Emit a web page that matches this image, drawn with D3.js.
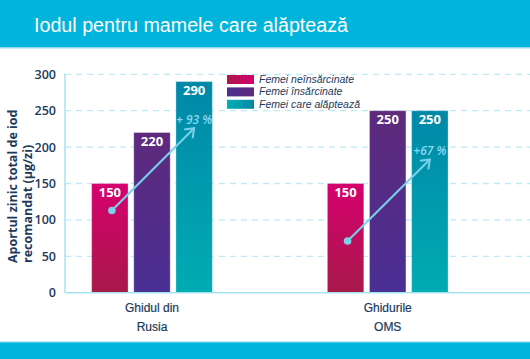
<!DOCTYPE html>
<html><head><meta charset="utf-8">
<script src="https://cdn.jsdelivr.net/npm/d3@7"></script>
<style>html,body{margin:0;padding:0;background:#fff;}svg{display:block;}</style>
</head><body>
<script>
const title = "Iodul pentru mamele care alăptează";
const groups = ["Ghidul din|Rusia", "Ghidurile|OMS"];
const series = ["Femei neînsărcinate", "Femei însărcinate", "Femei care alăptează"];
const values = [[150, 220, 290], [150, 250, 250]];
const yTicks = [0, 50, 100, 150, 200, 250, 300];
const arrowFrom = [113, 71];
const arrowTo = [226, 183];
const arrowLabels = ["+ 93 %", "+67 %"];
const yTitle = ["Aportul zinic total de iod", "recomandat (µg/zi)"];

const W = 530, H = 359;
const navy = "#1b3a5c";
const gradV = [["#d6006f", "#a8194a"], ["#5e2a7c", "#4a2f94"], ["#0088a7", "#00abb3"]];
const gradH = [["#aa1849", "#d6006f"], ["#4a2f94", "#5e2a7c"], ["#00b0b4", "#0087a7"]];

const svg = d3.select("body").append("svg").attr("width", W).attr("height", H);
const defs = svg.append("defs");
gradV.forEach((g, i) => {
  const lg = defs.append("linearGradient").attr("id", "gv" + i).attr("x1", 0).attr("y1", 0).attr("x2", 0).attr("y2", 1);
  lg.append("stop").attr("offset", "0%").attr("stop-color", g[0]);
  lg.append("stop").attr("offset", "100%").attr("stop-color", g[1]);
});
gradH.forEach((g, i) => {
  const lg = defs.append("linearGradient").attr("id", "gh" + i).attr("x1", 0).attr("y1", 0).attr("x2", 1).attr("y2", 0);
  lg.append("stop").attr("offset", "0%").attr("stop-color", g[0]);
  lg.append("stop").attr("offset", "100%").attr("stop-color", g[1]);
});
defs.append("marker").attr("id", "arr").attr("viewBox", "-10 -10 20 20")
  .attr("markerWidth", 20).attr("markerHeight", 20).attr("refX", 0).attr("refY", 0)
  .attr("orient", "auto").attr("markerUnits", "userSpaceOnUse")
  .append("path").attr("d", "M-8,-6 L0,0 L-8,6").attr("fill", "none")
  .attr("stroke", "#79d1ea").attr("stroke-width", 2);

// header
svg.append("rect").attr("x", 0).attr("y", 0).attr("width", W).attr("height", 47).attr("fill", "#00b4db");
svg.append("rect").attr("x", 0).attr("y", 47).attr("width", W).attr("height", 1.5).attr("fill", "#8fdcef");
svg.append("text").attr("x", 34).attr("y", 32).attr("fill", "#fff")
  .attr("font-family", "Liberation Sans, Arial, sans-serif").attr("font-size", 20)
  .attr("textLength", 314).attr("lengthAdjust", "spacingAndGlyphs").text(title);
// footer
svg.append("rect").attr("x", 0).attr("y", 342).attr("width", W).attr("height", 17).attr("fill", "#00b4db");
svg.append("rect").attr("x", 0).attr("y", 341.5).attr("width", W).attr("height", 1).attr("fill", "#8fdcef");

const x0 = 65;
const y = d3.scaleLinear().domain([0, 300]).range([292.7, 74.3]);
const xg = d3.scalePoint().domain(groups).range([x0, 474.7]).padding(0.369);
const xs = d3.scaleBand().domain(series).range([-60.35, 60.35]).paddingInner(0.135);

// grid
svg.append("g").selectAll("line").data(yTicks.filter(t => t > 0)).join("line")
  .attr("x1", x0).attr("x2", W).attr("y1", d => y(d)).attr("y2", d => y(d))
  .attr("stroke", "#bfe9f5").attr("stroke-width", 1.3).attr("stroke-dasharray", "6,5");

// y axis
const yAxis = d3.axisLeft(y).tickValues(yTicks).tickSize(0).tickPadding(9);
const ga = svg.append("g").attr("transform", `translate(${x0},0)`).call(yAxis);
ga.select(".domain").remove();
ga.selectAll("text").attr("font-family", "Open Sans, sans-serif").attr("font-size", 12.5)
  .attr("font-weight", 600).attr("fill", navy);
svg.append("line").attr("x1", x0).attr("x2", x0).attr("y1", 73.5).attr("y2", y(0))
  .attr("stroke", "#a7e2f0").attr("stroke-width", 1.5);

// bars
groups.forEach((g, gi) => {
  const gg = svg.append("g").attr("transform", `translate(${xg(g)},0)`);
  gg.selectAll("rect").data(values[gi]).join("rect")
    .attr("x", (d, i) => xs(series[i])).attr("width", xs.bandwidth())
    .attr("y", d => y(d)).attr("height", d => y(0) - y(d))
    .attr("fill", (d, i) => `url(#gv${i})`)
    .attr("stroke", "rgba(255,255,255,0.3)").attr("stroke-width", 1);
  gg.selectAll("text.v").data(values[gi]).join("text").attr("class", "v")
    .attr("x", (d, i) => xs(series[i]) + xs.bandwidth() / 2).attr("y", d => y(d) + 13)
    .attr("text-anchor", "middle").attr("fill", "#fff")
    .attr("font-family", "Open Sans, sans-serif").attr("font-weight", 700).attr("font-size", 13)
    .text(d => d);
  // arrow
  const xa = xs(series[0]) + xs.bandwidth() / 2 + 2, xb = xs(series[2]) + xs.bandwidth() / 2;
  gg.append("line").attr("x1", xa).attr("y1", y(arrowFrom[gi])).attr("x2", xb).attr("y2", y(arrowTo[gi]))
    .attr("stroke", "#79d1ea").attr("stroke-width", 2).attr("marker-end", "url(#arr)");
  gg.append("circle").attr("cx", xa).attr("cy", y(arrowFrom[gi])).attr("r", 3.8).attr("fill", "#79d1ea");
  gg.append("text").attr("x", xb).attr("y", y(arrowTo[gi]) - 4).attr("text-anchor", "middle")
    .attr("fill", "#8ad8ee").attr("font-family", "Open Sans, sans-serif").attr("font-style", "italic")
    .attr("font-weight", 600).attr("font-size", 12).text(arrowLabels[gi]);
  // x labels
  const lines = g.split("|");
  gg.selectAll("text.xl").data(lines).join("text").attr("class", "xl")
    .attr("x", 0).attr("y", (d, i) => 312 + i * 18.5).attr("text-anchor", "middle")
    .attr("fill", navy).attr("font-family", "Liberation Sans, Arial, sans-serif")
    .attr("font-size", 12).attr("stroke", navy).attr("stroke-width", 0.2).text(d => d);
});

// x axis line
svg.append("line").attr("x1", x0).attr("x2", W).attr("y1", y(0)).attr("y2", y(0))
  .attr("stroke", "#a7e2f0").attr("stroke-width", 1.5);

// legend
const lg = svg.append("g").attr("transform", "translate(227,75)");
series.forEach((s, i) => {
  lg.append("rect").attr("x", 0).attr("y", i * 12.4).attr("width", 27).attr("height", 9).attr("fill", `url(#gh${i})`);
  lg.append("text").attr("x", 32).attr("y", i * 12.4 + 8).attr("fill", navy)
    .attr("font-family", "Liberation Sans, Arial, sans-serif").attr("font-style", "italic")
    .attr("font-size", 10.5).text(s);
});

// y title
yTitle.forEach((t, i) => {
  svg.append("text").attr("transform", `translate(${17 + i * 15},263) rotate(-90)`)
    .attr("fill", navy).attr("font-family", "Open Sans, sans-serif").attr("font-weight", 700)
    .attr("font-size", 12.5).text(t);
});
</script>
</body></html>
